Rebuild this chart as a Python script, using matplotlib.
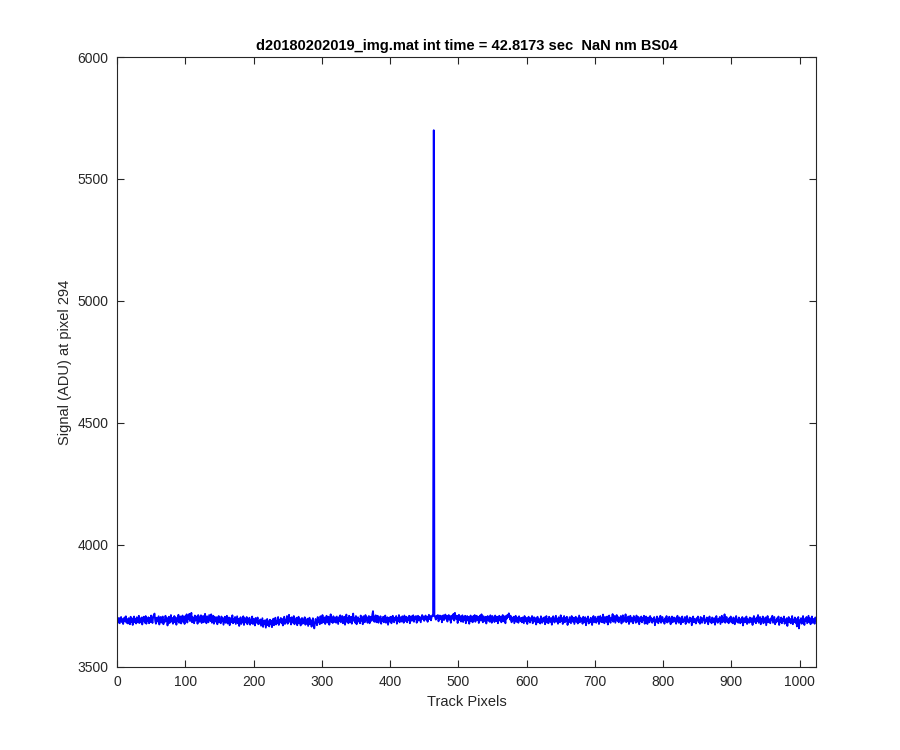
import numpy as np
import matplotlib
matplotlib.use('Agg')
import matplotlib.pyplot as plt

# signal at pixel 294 along the track (one value per track pixel)
signal = [
    3698, 3682, 3701, 3679, 3693, 3705, 3684, 3696, 3676, 3691, 3703, 3687, 3708, 3681, 3695, 3678,
    3700, 3689, 3675, 3706, 3684, 3699, 3672, 3694, 3707, 3683, 3697, 3678, 3704, 3690, 3682, 3710,
    3680, 3698, 3686, 3703, 3674, 3692, 3706, 3691, 3681, 3709, 3677, 3697, 3688, 3704, 3679, 3700,
    3684, 3711, 3690, 3680, 3706, 3714, 3719, 3688, 3677, 3702, 3686, 3697, 3708, 3674, 3692, 3705,
    3682, 3699, 3707, 3675, 3694, 3684, 3710, 3689, 3701, 3670, 3696, 3706, 3680, 3692, 3713, 3686,
    3701, 3677, 3694, 3709, 3683, 3703, 3673, 3697, 3688, 3714, 3681, 3699, 3707, 3678, 3692, 3711,
    3685, 3703, 3676, 3709, 3694, 3716, 3682, 3706, 3698, 3718, 3688, 3710, 3722, 3683, 3704, 3696,
    3679, 3711, 3690, 3701, 3707, 3677, 3713, 3694, 3685, 3705, 3712, 3680, 3700, 3709, 3683, 3703,
    3718, 3690, 3679, 3708, 3696, 3683, 3713, 3701, 3688, 3716, 3681, 3701, 3710, 3677, 3706, 3694,
    3685, 3704, 3675, 3699, 3709, 3683, 3696, 3679, 3707, 3690, 3701, 3673, 3689, 3706, 3681, 3697,
    3710, 3678, 3694, 3703, 3671, 3689, 3701, 3683, 3712, 3679, 3697, 3685, 3705, 3676, 3691, 3708,
    3679, 3697, 3668, 3689, 3704, 3676, 3694, 3683, 3708, 3672, 3700, 3688, 3682, 3705, 3675, 3694,
    3683, 3702, 3673, 3691, 3680, 3707, 3676, 3697, 3685, 3670, 3701, 3681, 3691, 3703, 3675, 3688,
    3678, 3695, 3669, 3684, 3700, 3664, 3689, 3676, 3692, 3661, 3680, 3697, 3671, 3687, 3666, 3694,
    3677, 3690, 3663, 3682, 3698, 3671, 3685, 3702, 3674, 3690, 3680, 3705, 3672, 3692, 3684, 3701,
    3679, 3697, 3670, 3690, 3706, 3676, 3694, 3683, 3709, 3677, 3692, 3714, 3685, 3700, 3674, 3704,
    3689, 3681, 3709, 3675, 3694, 3683, 3702, 3671, 3691, 3706, 3679, 3697, 3670, 3689, 3701, 3677,
    3695, 3683, 3704, 3673, 3689, 3678, 3698, 3668, 3686, 3702, 3675, 3692, 3665, 3684, 3700, 3673,
    3658, 3680, 3697, 3686, 3671, 3705, 3684, 3694, 3675, 3708, 3689, 3679, 3713, 3691, 3683, 3703,
    3676, 3697, 3710, 3682, 3694, 3706, 3673, 3690, 3716, 3685, 3700, 3680, 3708, 3694, 3684, 3703,
    3681, 3707, 3691, 3676, 3704, 3689, 3712, 3683, 3697, 3709, 3679, 3694, 3706, 3673, 3691, 3715,
    3685, 3700, 3679, 3710, 3694, 3683, 3706, 3677, 3697, 3719, 3689, 3702, 3681, 3709, 3675, 3694,
    3704, 3686, 3697, 3679, 3711, 3690, 3702, 3675, 3708, 3694, 3683, 3713, 3691, 3704, 3681, 3699,
    3709, 3679, 3694, 3706, 3689, 3715, 3729, 3697, 3685, 3704, 3712, 3683, 3700, 3710, 3681, 3702,
    3691, 3708, 3677, 3697, 3689, 3706, 3683, 3700, 3711, 3681, 3694, 3704, 3673, 3689, 3703, 3686,
    3706, 3679, 3697, 3710, 3689, 3683, 3702, 3694, 3709, 3677, 3700, 3688, 3713, 3683, 3704, 3694,
    3686, 3708, 3697, 3681, 3711, 3700, 3688, 3706, 3683, 3702, 3694, 3710, 3679, 3700, 3708, 3689,
    3702, 3712, 3685, 3704, 3696, 3709, 3681, 3700, 3710, 3690, 3706, 3694, 3683, 3704, 3713, 3696,
    3707, 3689, 3702, 3711, 3694, 3706, 3685, 3704, 3714, 3696, 3709, 3691, 3705, 3712, 3708, 5700,
    3712, 3704, 3694, 3710, 3700, 3713, 3687, 3705, 3711, 3697, 3709, 3683, 3703, 3712, 3692, 3707,
    3715, 3697, 3710, 3686, 3705, 3713, 3694, 3709, 3681, 3703, 3711, 3697, 3718, 3690, 3722, 3705,
    3696, 3710, 3680, 3705, 3714, 3692, 3708, 3686, 3701, 3712, 3684, 3705, 3694, 3710, 3679, 3701,
    3709, 3690, 3705, 3677, 3698, 3711, 3687, 3704, 3683, 3709, 3696, 3713, 3685, 3702, 3710, 3692,
    3706, 3680, 3699, 3711, 3690, 3716, 3695, 3683, 3708, 3698, 3687, 3706, 3678, 3696, 3709, 3690,
    3704, 3685, 3712, 3694, 3681, 3709, 3692, 3701, 3684, 3711, 3698, 3688, 3706, 3679, 3699, 3710,
    3690, 3706, 3683, 3701, 3713, 3687, 3708, 3696, 3679, 3710, 3698, 3714, 3704, 3720, 3711, 3694,
    3709, 3683, 3701, 3691, 3706, 3679, 3695, 3710, 3685, 3703, 3693, 3681, 3708, 3694, 3688, 3701,
    3683, 3703, 3690, 3679, 3709, 3693, 3686, 3701, 3676, 3696, 3706, 3688, 3682, 3700, 3691, 3709,
    3679, 3694, 3704, 3686, 3700, 3674, 3691, 3706, 3683, 3697, 3689, 3678, 3708, 3693, 3681, 3700,
    3689, 3704, 3675, 3694, 3709, 3682, 3697, 3679, 3706, 3691, 3685, 3701, 3673, 3694, 3708, 3689,
    3682, 3700, 3710, 3686, 3697, 3677, 3704, 3691, 3683, 3712, 3689, 3701, 3676, 3696, 3709, 3683,
    3700, 3689, 3706, 3672, 3694, 3683, 3704, 3691, 3679, 3709, 3694, 3685, 3702, 3676, 3690, 3706,
    3685, 3700, 3678, 3694, 3711, 3683, 3702, 3689, 3697, 3677, 3706, 3691, 3683, 3704, 3671, 3696,
    3689, 3707, 3678, 3694, 3683, 3702, 3691, 3672, 3700, 3709, 3683, 3694, 3705, 3681, 3696, 3689,
    3707, 3676, 3694, 3709, 3685, 3700, 3683, 3715, 3691, 3679, 3705, 3694, 3685, 3707, 3674, 3697,
    3711, 3689, 3681, 3702, 3694, 3717, 3685, 3700, 3709, 3681, 3697, 3713, 3689, 3705, 3683, 3700,
    3691, 3709, 3678, 3697, 3712, 3685, 3702, 3694, 3716, 3683, 3700, 3689, 3707, 3676, 3696, 3710,
    3685, 3702, 3694, 3679, 3709, 3691, 3700, 3681, 3711, 3694, 3685, 3705, 3675, 3697, 3689, 3707,
    3683, 3700, 3691, 3710, 3677, 3697, 3707, 3689, 3676, 3703, 3694, 3683, 3709, 3691, 3700, 3681,
    3697, 3689, 3705, 3671, 3694, 3685, 3707, 3691, 3679, 3700, 3689, 3710, 3681, 3696, 3705, 3686,
    3694, 3677, 3700, 3689, 3709, 3682, 3697, 3686, 3706, 3691, 3675, 3697, 3707, 3683, 3694, 3703,
    3686, 3700, 3677, 3694, 3710, 3689, 3681, 3703, 3691, 3675, 3697, 3707, 3683, 3694, 3689, 3705,
    3676, 3697, 3709, 3685, 3694, 3681, 3703, 3689, 3700, 3671, 3691, 3707, 3683, 3697, 3689, 3678,
    3700, 3691, 3707, 3683, 3694, 3677, 3705, 3689, 3681, 3700, 3691, 3710, 3679, 3694, 3686, 3703,
    3689, 3675, 3697, 3707, 3685, 3694, 3679, 3703, 3691, 3683, 3700, 3673, 3694, 3709, 3689, 3681,
    3697, 3689, 3705, 3676, 3694, 3710, 3683, 3700, 3689, 3716, 3681, 3697, 3705, 3685, 3694, 3679,
    3700, 3689, 3707, 3683, 3694, 3679, 3703, 3691, 3675, 3697, 3709, 3685, 3694, 3681, 3703, 3689,
    3679, 3697, 3685, 3705, 3670, 3691, 3700, 3683, 3694, 3707, 3676, 3697, 3689, 3681, 3703, 3691,
    3683, 3700, 3672, 3694, 3709, 3685, 3697, 3679, 3703, 3689, 3713, 3681, 3694, 3705, 3675, 3697,
    3689, 3707, 3679, 3694, 3685, 3703, 3671, 3691, 3709, 3683, 3697, 3689, 3679, 3700, 3691, 3710,
    3681, 3694, 3705, 3675, 3691, 3683, 3700, 3689, 3707, 3672, 3694, 3685, 3703, 3679, 3697, 3689,
    3707, 3677, 3694, 3685, 3700, 3668, 3691, 3705, 3683, 3697, 3679, 3689, 3709, 3675, 3694, 3685,
    3703, 3681, 3697, 3666, 3689, 3705, 3658, 3691, 3683, 3700, 3677, 3694, 3709, 3685, 3672, 3697,
    3689, 3705, 3679, 3694, 3710, 3683, 3700, 3675, 3691, 3707, 3681, 3697, 3685, 3677, 3703, 3691,
]
track_pixels = np.arange(1, len(signal) + 1)

x_ticks = list(range(0, 1001, 100))
y_ticks = list(range(3500, 6001, 500))

plt.rcParams['font.family'] = ['Liberation Sans', 'DejaVu Sans']
axis_color = '#262626'

fig = plt.figure(figsize=(9, 7.5), dpi=100)
ax = fig.add_axes([0.13, 0.1107, 0.7767, 0.8133])

ax.plot(track_pixels, signal, color='#0000ff', linewidth=1.3)

ax.set_xlim(0, 1024)
ax.set_ylim(3500, 6000)
ax.set_xticks(x_ticks)
ax.set_yticks(y_ticks)

ax.tick_params(direction='in', top=True, right=True, length=5, width=0.8,
               labelsize=10, colors=axis_color, pad=6)
for s in ax.spines.values():
    s.set_color(axis_color)
    s.set_linewidth(0.8)

ax.set_xlabel('Track Pixels', fontsize=10.5, color=axis_color)
ax.set_ylabel('Signal (ADU) at pixel 294', fontsize=10.5, color=axis_color)
ax.set_title('d20180202019_img.mat int time = 42.8173 sec  NaN nm BS04',
             fontsize=10.5, fontweight='bold', color='black', pad=5)

fig.savefig('out.png', dpi=100)
